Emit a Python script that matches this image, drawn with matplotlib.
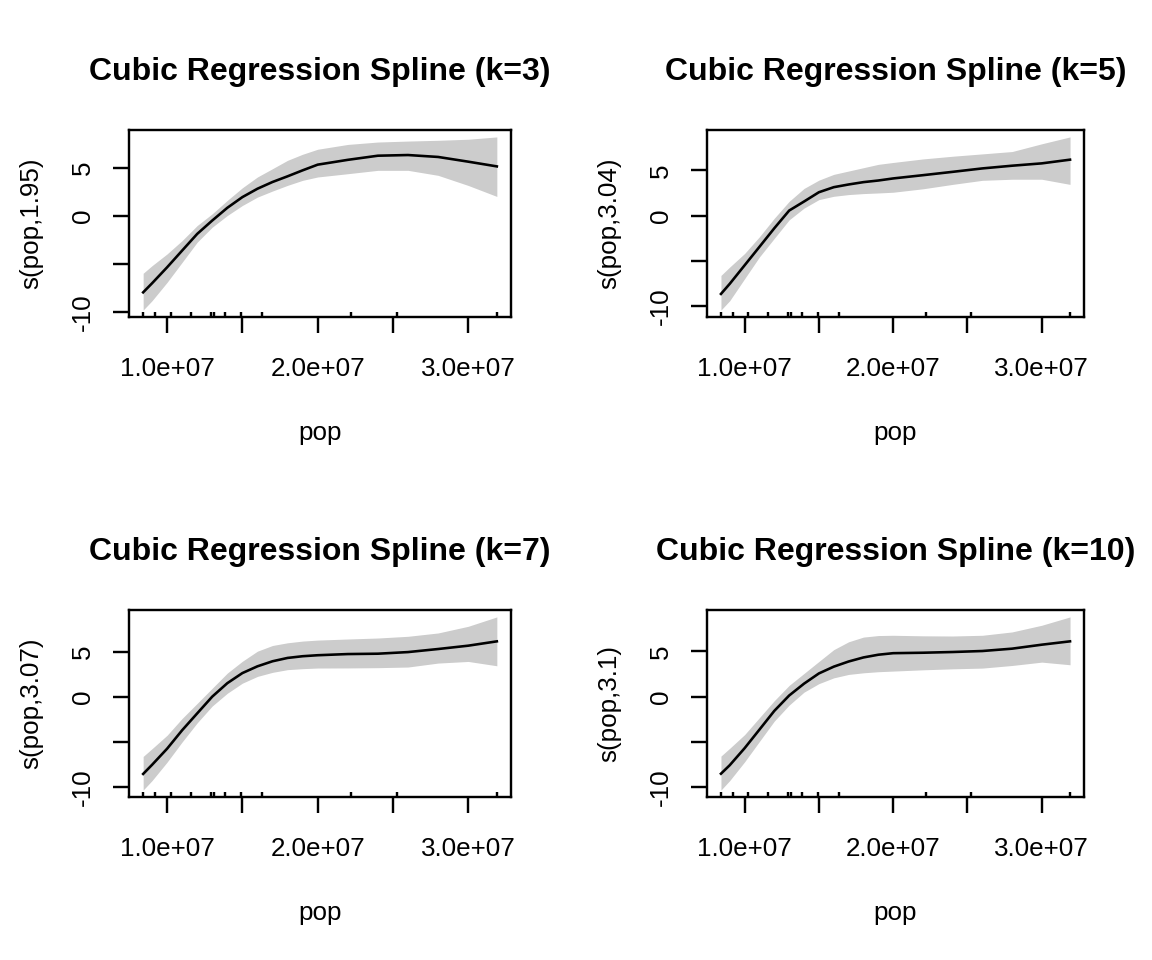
import numpy as np
import matplotlib
matplotlib.use('Agg')
import matplotlib.pyplot as plt

plt.rcParams['font.family'] = ['Liberation Sans', 'DejaVu Sans']

# observed pop values (rug)
rug = [8.41e6, 9.22e6, 1.025e7, 1.159e7, 1.292e7, 1.310e7, 1.386e7,
       1.493e7, 1.633e7, 2.224e7, 2.525e7, 3.19e7]

# grid where the smooths were read
pop = [8.41e6, 9e6, 1e7, 1.1e7, 1.2e7, 1.3e7, 1.4e7, 1.5e7, 1.6e7, 1.7e7,
       1.8e7, 1.9e7, 2.0e7, 2.2e7, 2.4e7, 2.6e7, 2.8e7, 3.0e7, 3.19e7]

titles = ['Cubic Regression Spline (k=3)', 'Cubic Regression Spline (k=5)',
          'Cubic Regression Spline (k=7)', 'Cubic Regression Spline (k=10)']
ylabels = ['s(pop,1.95)', 's(pop,3.04)', 's(pop,3.07)', 's(pop,3.1)']

fit_k3 = [-7.91, -6.97, -5.31, -3.57, -1.84, -0.45, 0.87, 1.98, 2.85, 3.55,
          4.14, 4.76, 5.35, 5.85, 6.28, 6.35, 6.15, 5.66, 5.17]
up_k3 = [-5.93, -5.14, -3.92, -2.53, -0.97, 0.25, 1.64, 2.95, 4.07, 4.93,
         5.80, 6.43, 6.95, 7.45, 7.70, 7.80, 7.88, 7.99, 8.23]
lo_k3 = [-9.75, -8.78, -6.87, -4.79, -2.70, -1.14, 0.07, 1.11, 1.98, 2.61,
         3.20, 3.72, 4.07, 4.41, 4.76, 4.76, 4.24, 3.19, 2.05]

fit_k5 = [-8.69, -7.57, -5.52, -3.47, -1.41, 0.55, 1.55, 2.58, 3.14, 3.44,
          3.70, 3.88, 4.11, 4.47, 4.84, 5.22, 5.52, 5.78, 6.19]
up_k5 = [-6.64, -5.71, -4.21, -2.35, -0.30, 1.57, 3.00, 3.92, 4.56, 4.93,
         5.30, 5.67, 5.88, 6.27, 6.57, 6.83, 7.09, 7.95, 8.71]
lo_k5 = [-10.48, -9.44, -7.01, -4.59, -2.53, -0.48, 0.82, 1.76, 2.13, 2.32,
         2.43, 2.50, 2.58, 2.96, 3.45, 3.90, 4.02, 4.02, 3.45]

fit_k7 = [-8.51, -7.50, -5.71, -3.66, -1.79, 0.07, 1.56, 2.68, 3.43, 3.99,
          4.36, 4.55, 4.66, 4.79, 4.83, 5.01, 5.35, 5.72, 6.20]
up_k7 = [-6.57, -5.71, -4.22, -2.35, -0.68, 1.00, 2.68, 3.99, 5.11, 5.74,
         6.04, 6.23, 6.34, 6.46, 6.57, 6.76, 7.13, 7.87, 8.91]
lo_k7 = [-10.30, -9.25, -7.20, -4.96, -2.84, -0.97, 0.44, 1.56, 2.31, 2.76,
         3.06, 3.17, 3.24, 3.25, 3.28, 3.35, 3.79, 3.97, 3.49]

fit_k10 = [-8.53, -7.59, -5.71, -3.65, -1.58, 0.12, 1.43, 2.56, 3.31, 3.88,
           4.33, 4.63, 4.80, 4.85, 4.93, 5.04, 5.30, 5.74, 6.11]
up_k10 = [-6.58, -5.72, -4.21, -2.33, -0.45, 1.24, 2.56, 3.88, 5.19, 6.06,
          6.58, 6.75, 6.78, 6.72, 6.70, 6.78, 7.15, 7.89, 8.81]
lo_k10 = [-10.34, -9.29, -7.22, -4.96, -2.71, -0.94, 0.49, 1.43, 2.07, 2.45,
          2.63, 2.75, 2.82, 2.96, 3.07, 3.15, 3.44, 3.81, 3.52]

fits = [fit_k3, fit_k5, fit_k7, fit_k10]
ups = [up_k3, up_k5, up_k7, up_k10]
los = [lo_k3, lo_k5, lo_k7, lo_k10]

xticks = [1e7, 1.5e7, 2e7, 2.5e7, 3e7]
xticklabels = ['1.0e+07', '', '2.0e+07', '', '3.0e+07']
yticks = [-10, -5, 0, 5]
yticklabels = ['-10', '', '0', '5']

W, H = 1152, 960
# axes boxes in pixels: left, right, top, bottom
boxes = [(129, 511, 130, 317), (707, 1084, 130, 317),
         (129, 511, 610, 797), (707, 1084, 610, 797)]

fig = plt.figure(figsize=(W / 144, H / 144), dpi=144)

for i in range(4):
    l, r, t, b = boxes[i]
    ax = fig.add_axes([l / W, 1 - b / H, (r - l) / W, (b - t) / H])
    ax.fill_between(pop, los[i], ups[i], color='#cccccc', linewidth=0)
    ax.plot(pop, fits[i], color='black', linewidth=1.3)
    ax.vlines(rug, 0, 0.028, color='black', linewidth=1.2,
              transform=ax.get_xaxis_transform())

    xr = max(rug) - min(rug)
    ax.set_xlim(min(rug) - 0.04 * xr, max(rug) + 0.04 * xr)
    yr = max(ups[i]) - min(los[i])
    ax.set_ylim(min(los[i]) - 0.04 * yr, max(ups[i]) + 0.04 * yr)

    ax.set_xticks(xticks)
    ax.set_xticklabels(xticklabels)
    ax.set_yticks(yticks)
    ax.set_yticklabels(yticklabels, rotation=90, va='center')
    ax.tick_params(length=8, width=1.2, labelsize=13)
    ax.tick_params(axis='x', pad=12)
    ax.tick_params(axis='y', pad=9)
    for s in ax.spines.values():
        s.set_linewidth(1.2)

    ax.set_title(titles[i], fontsize=16, fontweight='bold', pad=25)
    ax.set_xlabel('pop', fontsize=13, labelpad=20)
    ax.set_ylabel(ylabels[i], fontsize=13, labelpad=14)

fig.savefig('out.png', dpi=144)
